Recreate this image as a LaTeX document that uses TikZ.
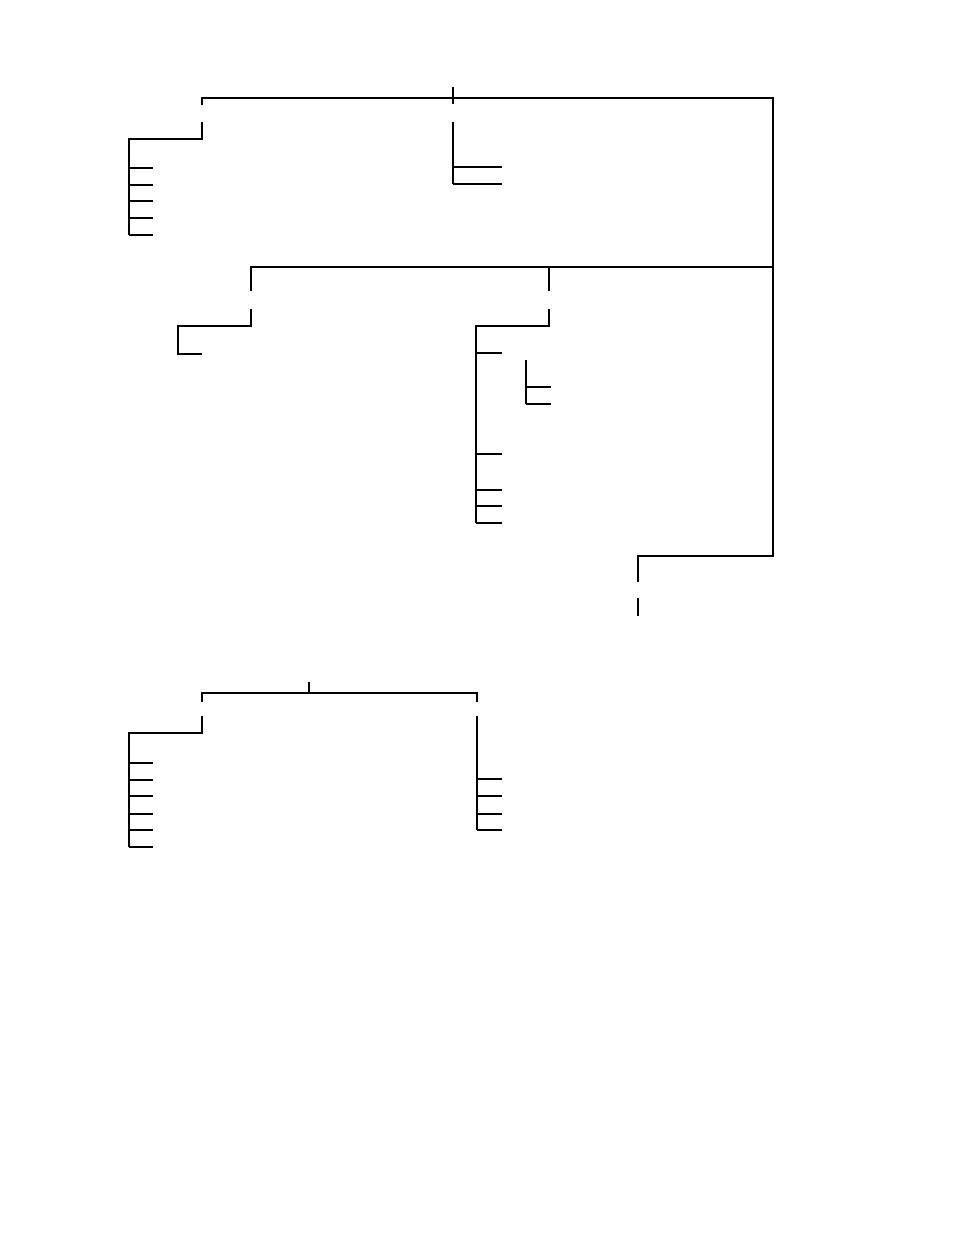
\documentclass[tikz,border=0pt]{standalone}
\usetikzlibrary{positioning}
\begin{document}
\begin{tikzpicture}[x=0.75pt,y=-0.75pt,line width=0.8pt,heavy/.style={line width=1.7pt}]
\useasboundingbox (0,0) rectangle (954,1235);
% upper tree
\coordinate (rootT) at (453,87);
\coordinate (rootB) at (453,104);
\coordinate (barL) at (202,105);
\coordinate (barR) at (773,98);
\coordinate (midJ) at (773,267);
\coordinate (lowJ) at (773,556);
\coordinate (dTop) at (638,556);
\coordinate (dEnd) at (638,582);
\coordinate (dTop2) at (638,598);
\coordinate (dEnd2) at (638,616);
\draw[heavy] (rootT) -- (rootB);
\draw (barL) |- (barR) -- (midJ) -- (lowJ) -- (dTop) -- (dEnd);
\draw (dTop2) -- (dEnd2);
% branch A
\coordinate (aTop) at (202,122);
\coordinate (aJ) at (202,139);
\coordinate (aL) at (129,139);
\coordinate (aEnd) at (129,235);
\draw (aTop) -- (aJ) -- (aL) -- (aEnd);
\foreach \y [count=\i] in {168,185,201,218,235} {
  \coordinate (a\i) at (129,\y);
  \coordinate (a\i e) at (153,\y);
  \draw (a\i) -- (a\i e);
}
% branch B
\coordinate (bTop) at (453,122);
\coordinate (bEnd) at (453,184);
\draw[heavy] (bTop) -- (bEnd);
\foreach \y [count=\i] in {167,184} {
  \coordinate (b\i) at (453,\y);
  \coordinate (b\i e) at (502,\y);
  \draw (b\i) -- (b\i e);
}
% second level
\coordinate (cTop) at (251,291);
\coordinate (eJ) at (549,267);
\coordinate (eTop) at (549,291);
\draw (cTop) |- (midJ);
\draw (eJ) -- (eTop);
% branch C
\coordinate (cTop2) at (251,309);
\coordinate (cJ) at (251,326);
\coordinate (cL) at (178,326);
\coordinate (cEnd) at (178,354);
\coordinate (cLeaf) at (202,354);
\draw (cTop2) -- (cJ) -- (cL) -- (cEnd) -- (cLeaf);
% branch E
\coordinate (eTop2) at (549,309);
\coordinate (eJ2) at (549,326);
\coordinate (eL) at (476,326);
\coordinate (eEnd) at (476,523);
\draw (eTop2) -- (eJ2) -- (eL) -- (eEnd);
\foreach \y [count=\i] in {353,454,490,506,523} {
  \coordinate (e\i) at (476,\y);
  \coordinate (e\i e) at (502,\y);
  \draw (e\i) -- (e\i e);
}
\coordinate (fTop) at (526,360);
\coordinate (fEnd) at (526,404);
\draw (fTop) -- (fEnd);
\foreach \y [count=\i] in {387,404} {
  \coordinate (f\i) at (526,\y);
  \coordinate (f\i e) at (551,\y);
  \draw (f\i) -- (f\i e);
}
% lower tree
\coordinate (gT) at (309,682);
\coordinate (gJ) at (309,693);
\coordinate (gL) at (202,702);
\coordinate (gRb) at (477,693);
\coordinate (gR) at (477,702);
\draw (gT) -- (gJ);
\draw[heavy] (gL) |- (gRb) -- (gR);
% branch H
\coordinate (hTop) at (202,716);
\coordinate (hJ) at (202,733);
\coordinate (hL) at (129,733);
\coordinate (hEnd) at (129,847);
\draw[heavy] (hTop) -- (hJ) -- (hL) -- (hEnd);
\coordinate (h0) at (129,763);
\coordinate (h0e) at (153,763);
\draw[heavy] (h0) -- (h0e);
\foreach \y [count=\i] in {780,796,814,830,847} {
  \coordinate (h\i) at (129,\y);
  \coordinate (h\i e) at (153,\y);
  \draw (h\i) -- (h\i e);
}
% branch K
\coordinate (kTop) at (477,716);
\coordinate (kEnd) at (477,830);
\draw (kTop) -- (kEnd);
\foreach \y [count=\i] in {779,796,814,830} {
  \coordinate (k\i) at (477,\y);
  \coordinate (k\i e) at (502,\y);
  \draw (k\i) -- (k\i e);
}
\end{tikzpicture}
\end{document}
